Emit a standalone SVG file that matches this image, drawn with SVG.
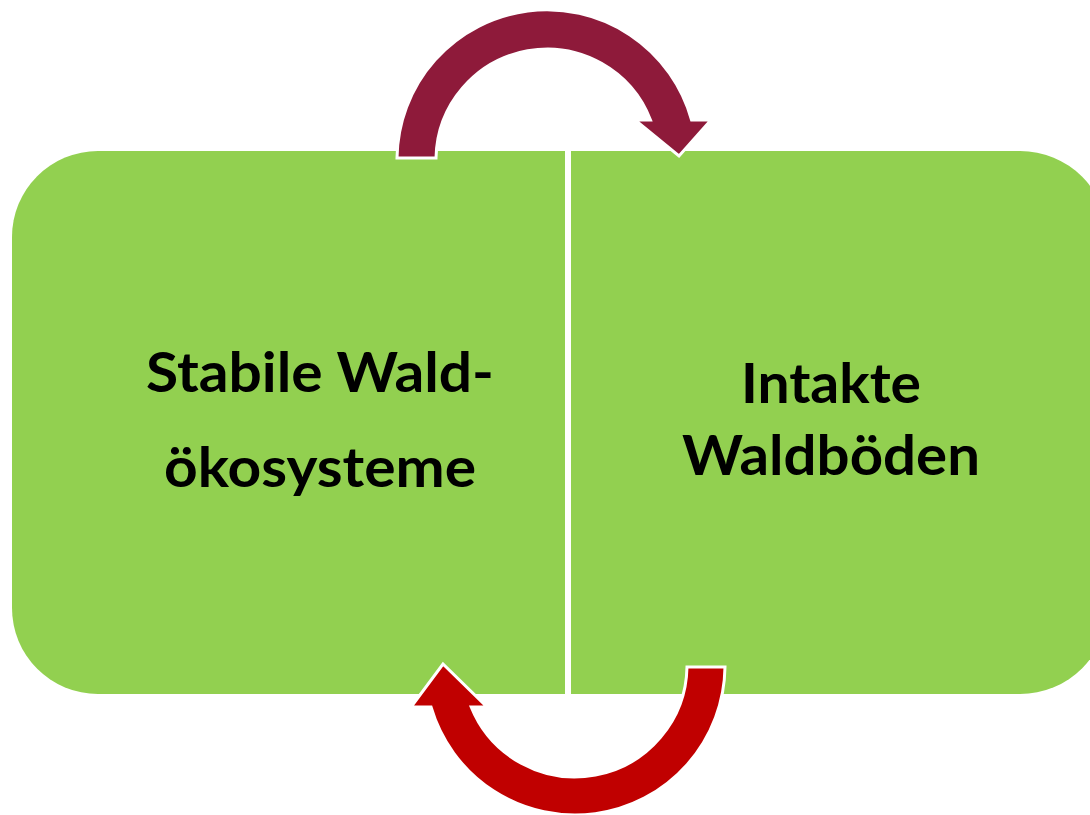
<svg xmlns="http://www.w3.org/2000/svg" width="1090" height="815" viewBox="0 0 1090 815">
<style>
.box{fill:#92D050;}
.lbl{font-family:"Lato","Liberation Sans",sans-serif;font-weight:bold;font-size:55px;fill:#000;text-anchor:middle;}
.arr{stroke:#fff;stroke-width:3;stroke-linejoin:miter;}
</style>
<rect width="1090" height="815" fill="#fff"/>
<g id="node-stabile">
<path class="box" d="M98,151 H565 V694 H98 A86,86 0 0 1 12,608 V237 A86,86 0 0 1 98,151 Z"/>
<text class="lbl" x="320" y="392" textLength="348" lengthAdjust="spacingAndGlyphs">Stabile Wald-</text>
<text class="lbl" x="320" y="487" textLength="312" lengthAdjust="spacingAndGlyphs">ökosysteme</text>
</g>
<g id="node-intakte">
<path class="box" d="M571,151 H1020 A88,88 0 0 1 1108,239 V606 A88,88 0 0 1 1020,694 H571 Z"/>
<text class="lbl" x="831" y="403" textLength="180" lengthAdjust="spacingAndGlyphs">Intakte</text>
<text class="lbl" x="831" y="475" textLength="298" lengthAdjust="spacingAndGlyphs">Waldböden</text>
</g>
<g id="connectors">
<path class="arr" fill="#8E1A3A" d="M397,158 A150,150 0 0 1 691.6,120 L711,120 L679,156 L635,120 L650.5,120 A111,111 0 0 0 436,158 Z"/>
<path class="arr" fill="#C00000" d="M725,667 A150,150 0 0 1 431,707 L411,707 L443,664 L487,707 L471.2,707 A112,112 0 0 0 687,667 Z"/>
</g>
</svg>
